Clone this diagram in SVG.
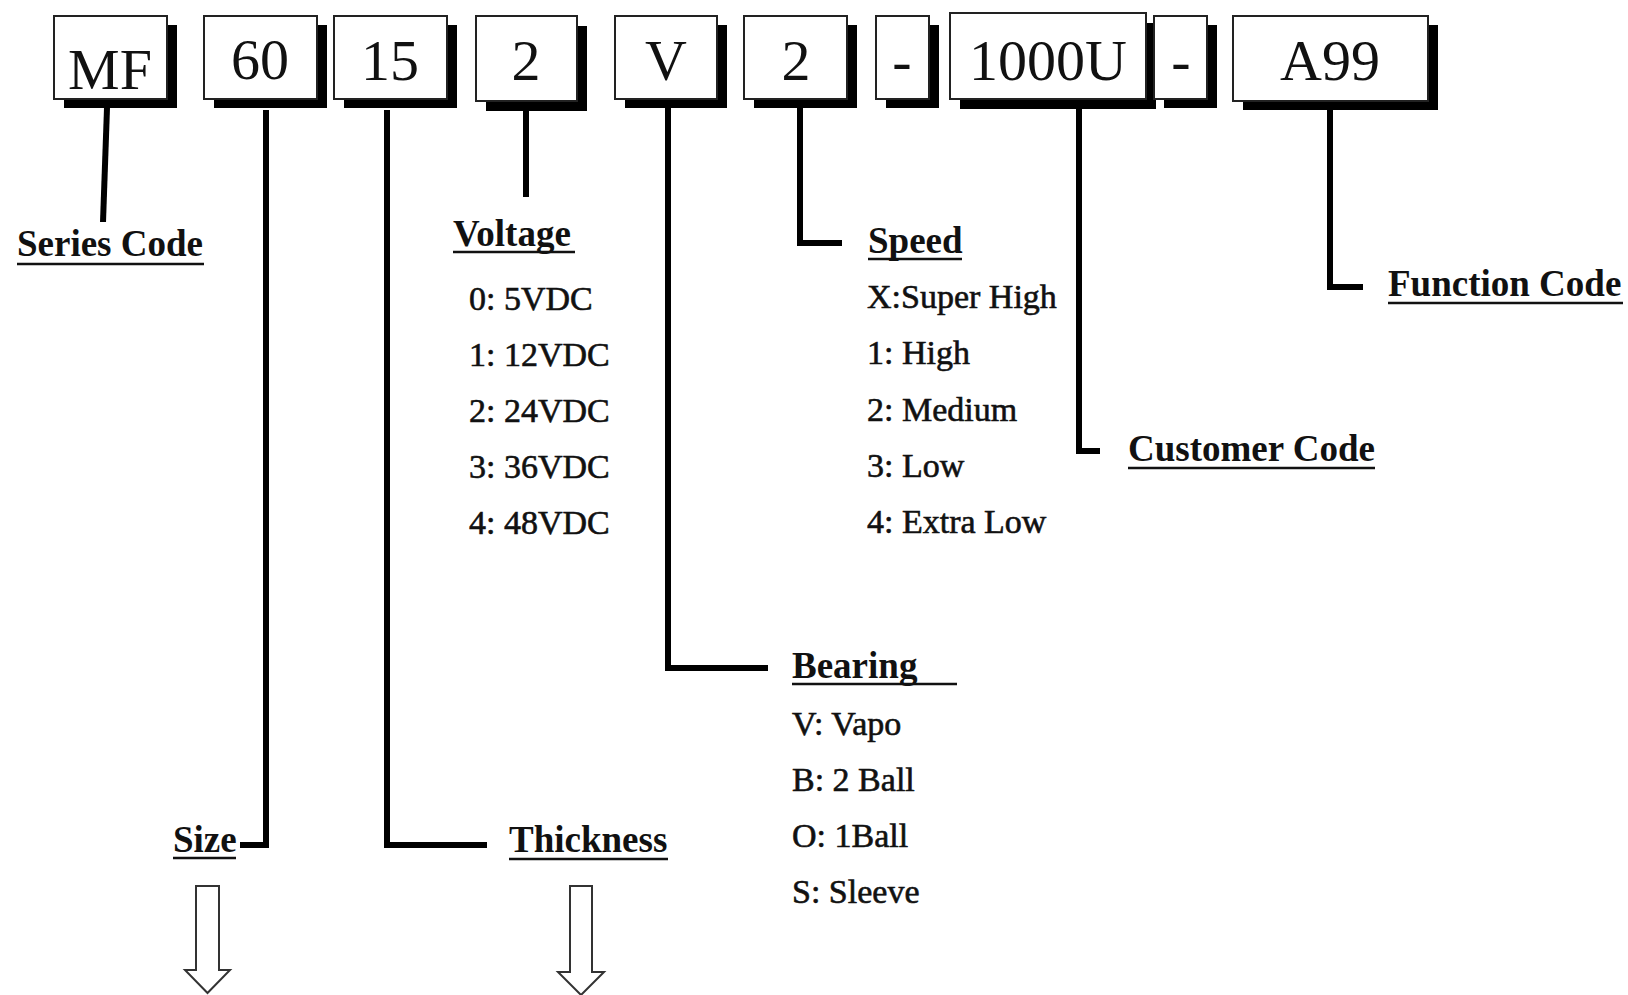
<svg xmlns="http://www.w3.org/2000/svg" width="1628" height="995" viewBox="0 0 1628 995">
<style>
.bx{fill:#fff;stroke:#222;stroke-width:2}
.sh{fill:#000}
.bt{font-family:"Liberation Serif","Times New Roman",serif;font-size:58px;fill:#111;text-anchor:middle}
.lb{font-family:"Liberation Serif","Times New Roman",serif;font-size:37px;font-weight:bold;fill:#111}
.it{font-family:"Liberation Serif","Times New Roman",serif;font-size:34px;fill:#111;stroke:#111;stroke-width:0.6}
.ul{stroke:#111;stroke-width:2.5}
.cn{fill:none;stroke:#000;stroke-width:6;stroke-linejoin:miter;stroke-linecap:butt}
.ar{fill:#fff;stroke:#333;stroke-width:2}
</style>
<rect width="1628" height="995" fill="#fff"/>
<g id="connectors">
<path class="cn" d="M107,108 L103,222"/>
<path class="cn" d="M266,110 L266,845 L240,845"/>
<path class="cn" d="M387,110 L387,845 L487,845"/>
<path class="cn" d="M526,111 L526,197"/>
<path class="cn" d="M668,108 L668,668 L768,668"/>
<path class="cn" d="M800,108 L800,243 L842,243"/>
<path class="cn" d="M1079,108 L1079,451 L1100,451"/>
<path class="cn" d="M1330,110 L1330,287 L1363,287"/>
</g>
<g id="box-MF"><rect class="sh" x="64" y="25" width="113" height="83"/><rect class="bx" x="54" y="16" width="113" height="83"/><text class="bt" x="110" y="89">MF</text></g>
<g id="box-60"><rect class="sh" x="214" y="25" width="113" height="83"/><rect class="bx" x="204" y="16" width="113" height="83"/><text class="bt" x="260" y="79">60</text></g>
<g id="box-15"><rect class="sh" x="344" y="25" width="113" height="83"/><rect class="bx" x="334" y="16" width="113" height="83"/><text class="bt" x="390" y="80">15</text></g>
<g id="box-2a"><rect class="sh" x="486" y="26" width="101" height="85"/><rect class="bx" x="476" y="16" width="101" height="85"/><text class="bt" x="526" y="80">2</text></g>
<g id="box-V"><rect class="sh" x="625" y="25" width="102" height="83"/><rect class="bx" x="615" y="16" width="102" height="83"/><text class="bt" x="666" y="80">V</text></g>
<g id="box-2b"><rect class="sh" x="754" y="25" width="103" height="83"/><rect class="bx" x="744" y="16" width="103" height="83"/><text class="bt" x="796" y="80">2</text></g>
<g id="box-dash1"><rect class="sh" x="886" y="25" width="53" height="83"/><rect class="bx" x="876" y="16" width="53" height="83"/><text class="bt" x="902" y="80">-</text></g>
<g id="box-1000U"><rect class="sh" x="960" y="23" width="196" height="86"/><rect class="bx" x="950" y="13" width="196" height="86"/><text class="bt" x="1048" y="80">1000U</text></g>
<g id="box-dash2"><rect class="sh" x="1164" y="25" width="53" height="83"/><rect class="bx" x="1154" y="16" width="53" height="83"/><text class="bt" x="1181" y="80">-</text></g>
<g id="box-A99"><rect class="sh" x="1243" y="25" width="195" height="85"/><rect class="bx" x="1233" y="16" width="195" height="85"/><text class="bt" x="1330" y="80">A99</text></g>
<g id="label-series"><text class="lb" x="17" y="256">Series Code</text><line class="ul" x1="17" y1="264" x2="204" y2="264"/></g>
<g id="label-voltage"><text class="lb" x="453" y="246">Voltage</text><line class="ul" x1="453" y1="252" x2="575" y2="252"/>
<text class="it" x="469" y="310">0: 5VDC</text><text class="it" x="469" y="366">1: 12VDC</text><text class="it" x="469" y="422">2: 24VDC</text><text class="it" x="469" y="478">3: 36VDC</text><text class="it" x="469" y="534">4: 48VDC</text></g>
<g id="label-speed"><text class="lb" x="868" y="253">Speed</text><line class="ul" x1="868" y1="259" x2="962" y2="259"/>
<text class="it" x="867" y="308">X:Super High</text><text class="it" x="867" y="364">1: High</text><text class="it" x="867" y="421">2: Medium</text><text class="it" x="867" y="477">3: Low</text><text class="it" x="867" y="533">4: Extra Low</text></g>
<g id="label-function"><text class="lb" x="1388" y="296">Function Code</text><line class="ul" x1="1388" y1="303" x2="1623" y2="303"/></g>
<g id="label-customer"><text class="lb" x="1128" y="461">Customer Code</text><line class="ul" x1="1128" y1="468" x2="1375" y2="468"/></g>
<g id="label-bearing"><text class="lb" x="792" y="678">Bearing</text><line class="ul" x1="792" y1="684" x2="957" y2="684"/>
<text class="it" x="792" y="735">V: Vapo</text><text class="it" x="792" y="791">B: 2 Ball</text><text class="it" x="792" y="847">O: 1Ball</text><text class="it" x="792" y="903">S: Sleeve</text></g>
<g id="label-size"><text class="lb" x="173" y="852">Size</text><line class="ul" x1="173" y1="858" x2="236" y2="858"/></g>
<g id="label-thickness"><text class="lb" x="509" y="852">Thickness</text><line class="ul" x1="509" y1="859" x2="668" y2="859"/></g>
<g id="arrow-size"><polygon class="ar" points="196,886 219,886 219,970 230,970 207.5,993 185,970 196,970"/></g>
<g id="arrow-thickness"><polygon class="ar" points="570,886 592,886 592,972 604,972 581,995 558,972 570,972"/></g>
</svg>
